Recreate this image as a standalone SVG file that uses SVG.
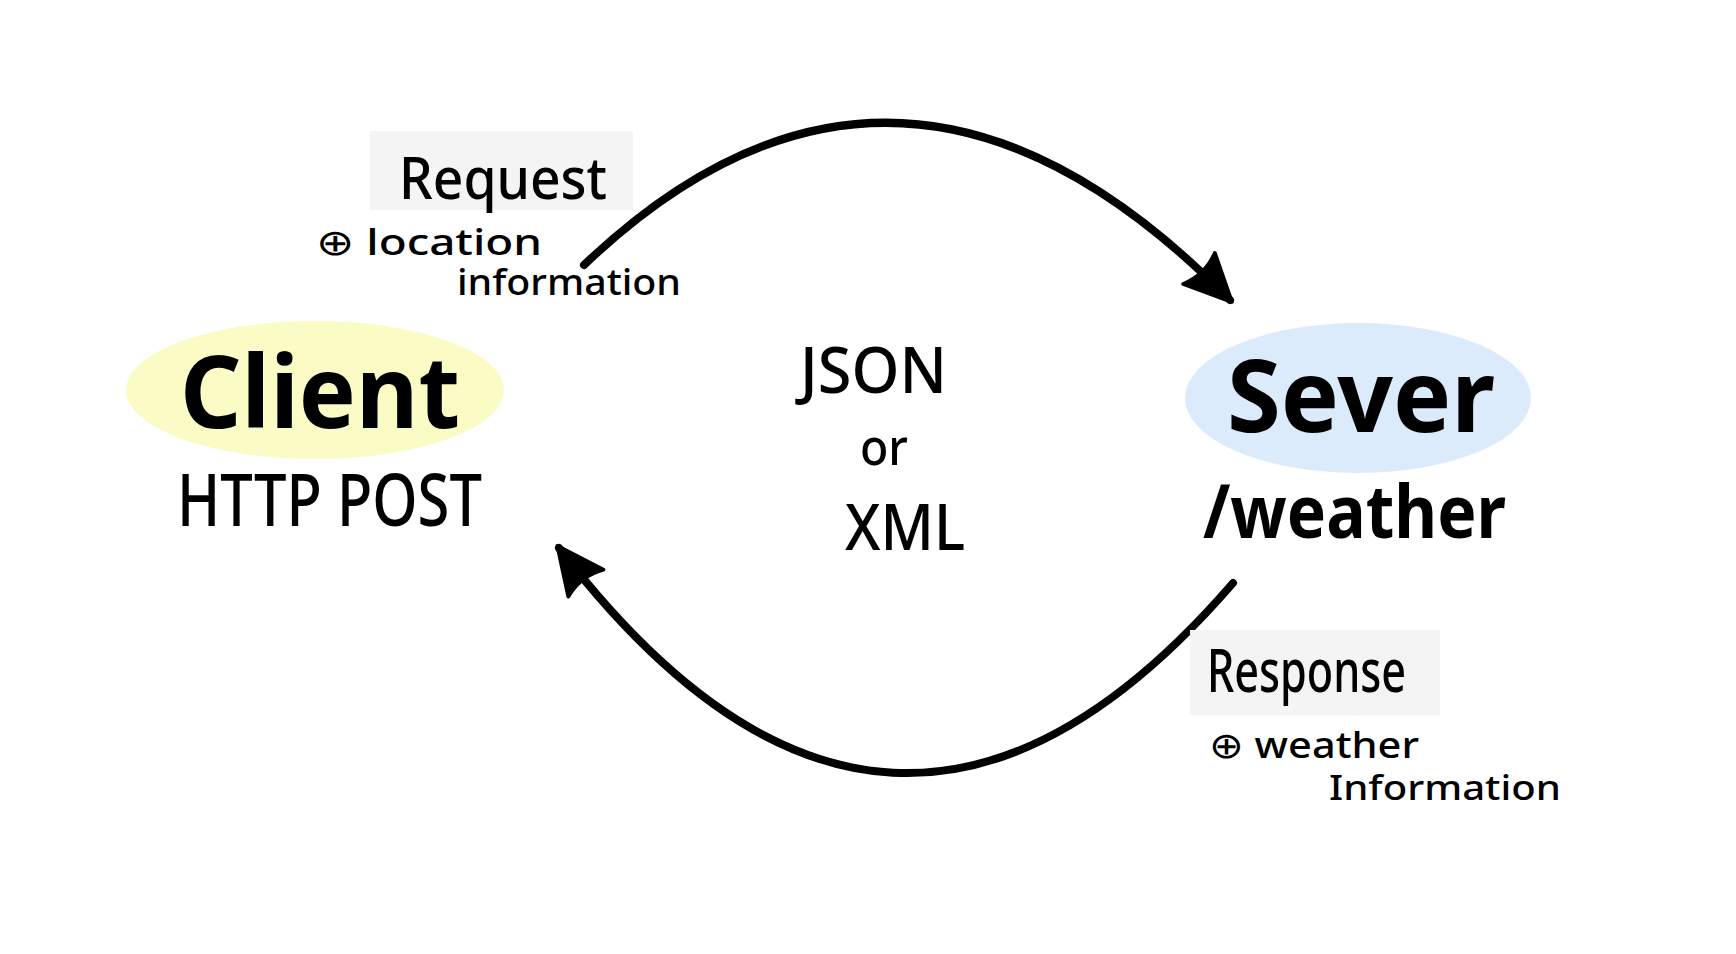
<svg xmlns="http://www.w3.org/2000/svg" width="1736" height="954" viewBox="0 0 1736 954">
  <style>
    .t { font-family: "Noto Sans", "DejaVu Sans", sans-serif; fill: #000; }
    .big { font-weight: 700; }
    .med { font-weight: 500; }
    .small { font-weight: 500; }
    .box { fill: #f4f4f4; }
    .conn { fill: none; stroke: #000; stroke-width: 8; stroke-linecap: round; }
  </style>
  <defs>
    <marker id="arrow" markerUnits="userSpaceOnUse" markerWidth="52" markerHeight="52" viewBox="0 0 40 40" refX="36" refY="20" orient="auto">
      <path d="M2,3 L38,20 L2,37 Q9,20 2,3 Z" fill="#000" stroke="#000" stroke-width="3" stroke-linejoin="round"/>
    </marker>
  </defs>
  <rect width="1736" height="954" fill="#ffffff"/>

  <g id="connectors">
    <path class="conn" d="M584,265 Q900,-36 1230,300" marker-end="url(#arrow)"/>
    <path class="conn" d="M1233,583 Q890,980 559,548" marker-end="url(#arrow)"/>
  </g>

  <g id="label-request">
    <rect class="box" x="370" y="131" width="263" height="79"/>
    <text class="t med" x="399" y="199" font-size="58" textLength="208" lengthAdjust="spacingAndGlyphs">Request</text>
    <text class="t small" x="316" y="255" font-size="36" textLength="226" lengthAdjust="spacingAndGlyphs">⊕ location</text>
    <text class="t small" x="457" y="295" font-size="36" textLength="224" lengthAdjust="spacingAndGlyphs">information</text>
  </g>

  <g id="node-client">
    <ellipse cx="315" cy="390" rx="189" ry="69" fill="#fbfbc5"/>
    <text class="t big" x="180" y="428" font-size="100" textLength="280" lengthAdjust="spacingAndGlyphs">Client</text>
    <text class="t med" x="177" y="526" font-size="72" textLength="305" lengthAdjust="spacingAndGlyphs">HTTP POST</text>
  </g>

  <g id="node-format">
    <text class="t small" x="800" y="393" font-size="64" textLength="147" lengthAdjust="spacingAndGlyphs">JSON</text>
    <text class="t small" x="860" y="465" font-size="50" textLength="48" lengthAdjust="spacingAndGlyphs">or</text>
    <text class="t small" x="845" y="550" font-size="64" textLength="120" lengthAdjust="spacingAndGlyphs">XML</text>
  </g>

  <g id="node-server">
    <ellipse cx="1358" cy="398" rx="173" ry="75" fill="#dcebfb"/>
    <text class="t big" x="1227" y="432" font-size="100" textLength="268" lengthAdjust="spacingAndGlyphs">Sever</text>
    <text class="t big" x="1203" y="538" font-size="74" textLength="303" lengthAdjust="spacingAndGlyphs">/weather</text>
  </g>

  <g id="label-response">
    <rect class="box" x="1190" y="630" width="250" height="85"/>
    <text class="t med" x="1207" y="692" font-size="60" textLength="199" lengthAdjust="spacingAndGlyphs">Response</text>
    <text class="t small" x="1209" y="758" font-size="36" textLength="210" lengthAdjust="spacingAndGlyphs">⊕ weather</text>
    <text class="t small" x="1329" y="800" font-size="34" textLength="232" lengthAdjust="spacingAndGlyphs">Information</text>
  </g>
</svg>
